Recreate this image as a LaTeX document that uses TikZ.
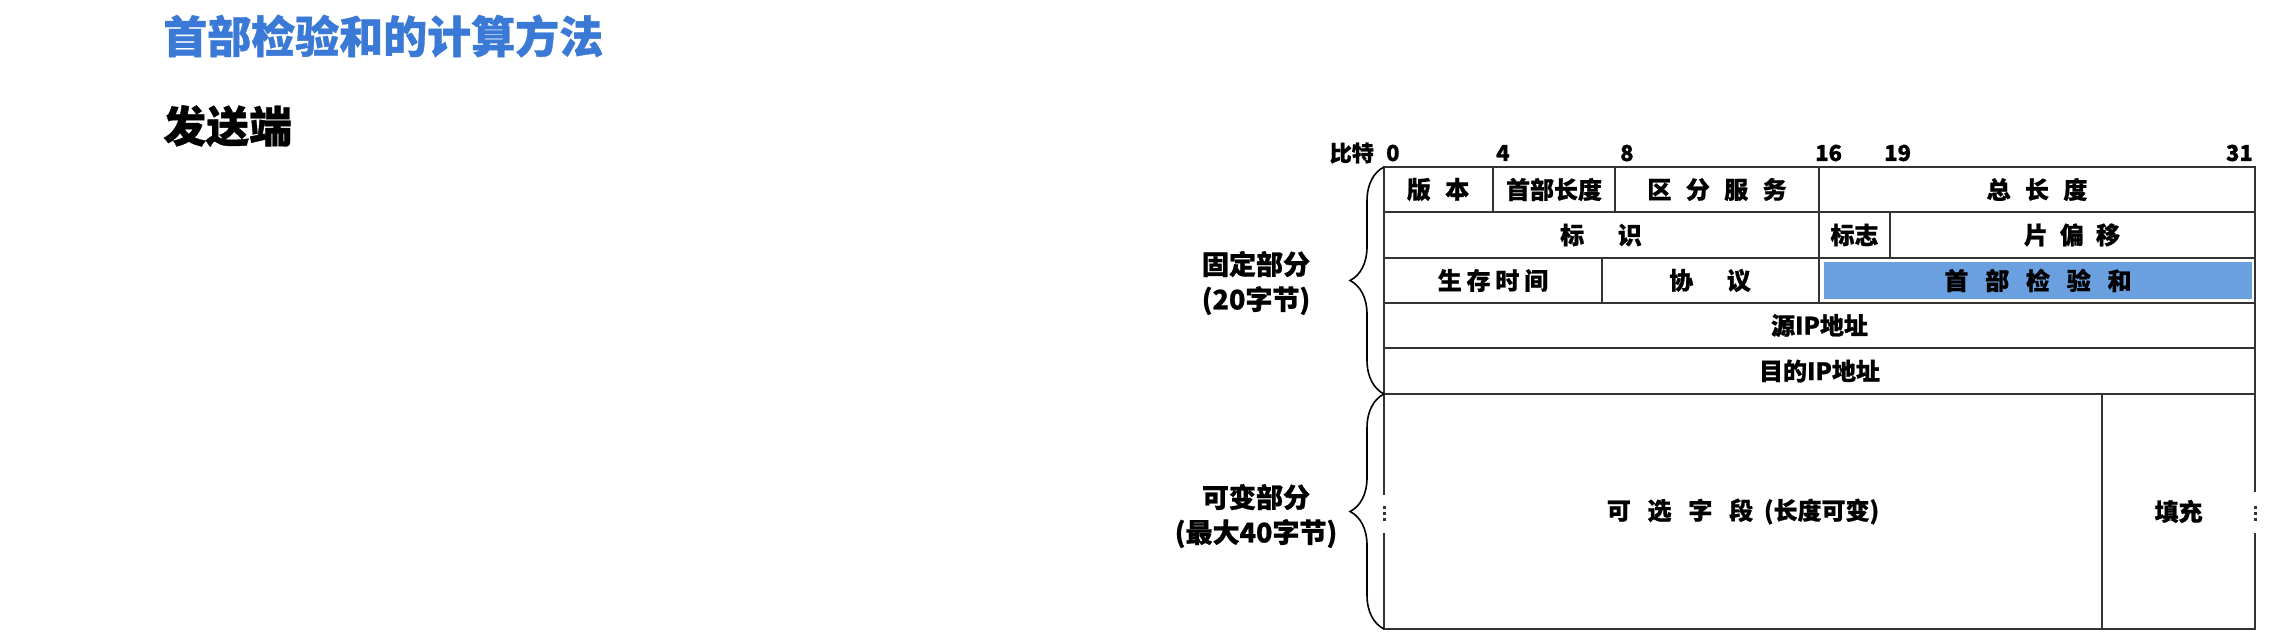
\documentclass[tikz,border=0pt]{standalone}
\usepackage{fontspec}
\setmainfont{Noto Sans CJK SC}[BoldFeatures={FakeBold=0.8}]
\usetikzlibrary{decorations.pathreplacing}
\definecolor{titleblue}{RGB}{58,122,214}
\definecolor{fillblue}{RGB}{106,159,224}
\newcommand\gapS{\hspace{0.6em}}
\newcommand\gapL{\hspace{1.4em}}
\begin{document}
\begin{tikzpicture}[x=1pt,y=-1pt,
  cell/.style={font=\bfseries\fontsize{24}{24}\selectfont, inner sep=0pt},
  bit/.style={font=\bfseries\fontsize{22}{22}\selectfont, inner sep=0pt},
  side/.style={font=\bfseries\fontsize{27}{35}\selectfont, align=center, inner sep=0pt},
  grid/.style={line width=2pt, draw=black!80},
  bracket/.style={decorate, decoration={brace, amplitude=34pt}, line width=1.6pt},
  ]
\useasboundingbox[fill=white] (0,0) rectangle (2288,642);
% headings
\node[anchor=west, inner sep=0pt, text=titleblue, font=\bfseries\fontsize{44}{44}\selectfont] (title) at (163,36) {首部检验和的计算方法};
\node[anchor=west, inner sep=0pt, font=\bfseries\fontsize{43}{43}\selectfont] (sender) at (163,126) {发送端};
% bit scale
\node[bit, anchor=east] (bitlbl) at (1374,153) {比特};
\node[bit, anchor=west] (b0) at (1386,153) {0};
\node[bit, anchor=west] (b4) at (1496,153) {4};
\node[bit, anchor=west] (b8) at (1620,153) {8};
\node[bit, anchor=west] (b16) at (1815,153) {16};
\node[bit, anchor=west] (b19) at (1884,153) {19};
\node[bit, anchor=east] (b31) at (2253,153) {31};
% blue highlight
\fill[fillblue] (1824,262) rectangle (2252,299);
% fixed part grid
\draw[grid] (1384,167) rectangle (2255,394);
\draw[grid] (1384,212) -- (2255,212);
\draw[grid] (1384,258) -- (2255,258);
\draw[grid] (1384,303) -- (2255,303);
\draw[grid] (1384,348) -- (2255,348);
\draw[grid] (1493,167) -- (1493,212);
\draw[grid] (1615,167) -- (1615,212);
\draw[grid] (1819,167) -- (1819,303);
\draw[grid] (1890,212) -- (1890,258);
\draw[grid] (1602,258) -- (1602,303);
% variable part
\draw[grid] (1384,495) -- (1384,394);
\draw[grid] (2255,394) -- (2255,492);
\draw[grid] (1384,533) -- (1384,629) -- (2255,629) -- (2255,533);
\draw[grid] (2102,394) -- (2102,629);
\foreach \yy in {507,513,519} {
  \fill[black!80] (1382.5,\yy-1.5) rectangle (1385.5,\yy+1.5);
  \fill[black!80] (2253.5,\yy-1.5) rectangle (2256.5,\yy+1.5);
}
% cell texts
\node[cell] (ver) at (1438,189.5) {版\gapS 本};
\node[cell] (hlen) at (1554,189.5) {首部长度};
\node[cell] (ds) at (1717,189.5) {区\gapS 分\gapS 服\gapS 务};
\node[cell] (tlen) at (2037,189.5) {总\gapS 长\gapS 度};
\node[cell] (ident) at (1601,235) {标\gapL 识};
\node[cell] (flag) at (1854.5,235) {标志};
\node[cell] (frag) at (2072,235) {片\hspace{0.5em}偏\hspace{0.5em}移};
\node[cell] (ttl) at (1493,280.5) {生\hspace{0.2em}存\hspace{0.2em}时\hspace{0.2em}间};
\node[cell] (proto) at (1710,280.5) {协\gapL 议};
\node[cell] (csum) at (2038,280.5) {首\hspace{0.7em}部\hspace{0.7em}检\hspace{0.7em}验\hspace{0.7em}和};
\node[cell] (src) at (1819.5,325.5) {源IP地址};
\node[cell] (dst) at (1819.5,371) {目的IP地址};
\node[cell] (opt) at (1743,511.5) {可\hspace{0.7em}选\hspace{0.7em}字\hspace{0.7em}段\hspace{0.45em}(长度可变)};
\node[cell] (pad) at (2178.5,511.5) {填充};
% braces and side labels
\draw[bracket] (1384,394) -- (1384,167);
\draw[bracket] (1384,629) -- (1384,394);
\node[side] (fixed) at (1256,283) {固定部分\\(20字节)};
\node[side] (var) at (1256,516) {可变部分\\(最大40字节)};
\end{tikzpicture}
\end{document}
